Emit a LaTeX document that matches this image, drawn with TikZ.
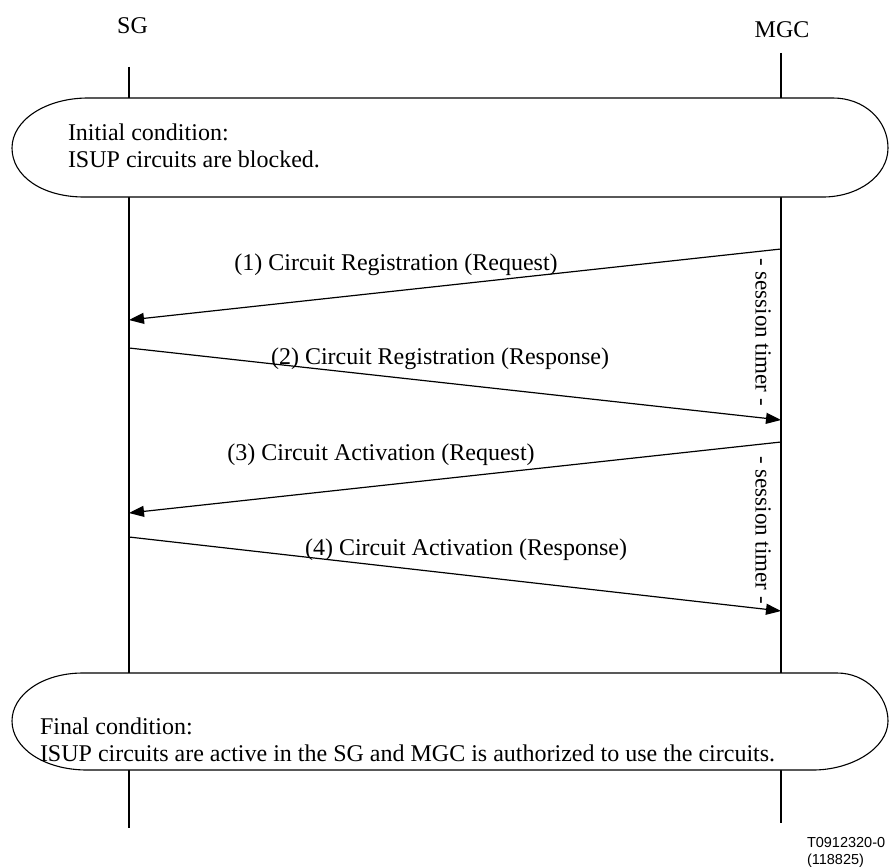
\documentclass[tikz,border=0pt]{standalone}
\usepackage{fontspec}
\setmainfont{Liberation Serif}
\newfontfamily\labelsans{Liberation Sans}
\usetikzlibrary{arrows.meta}
\begin{document}
\begin{tikzpicture}[x=1pt,y=-1pt,
  every node/.style={inner sep=0pt,outer sep=0pt,font=\fontsize{24}{27}\selectfont},
  lifeline/.style={line width=2pt},
  msg/.style={line width=1.2pt,-{Triangle[length=15pt,width=11pt]}},
  condbox/.style={line width=1.1pt,fill=white},
  boxtext/.style={anchor=base west},
  msglabel/.style={anchor=base},
  timer/.style={rotate=-90,font=\fontsize{23}{25}\selectfont},
  figid/.style={anchor=base west,font=\labelsans\fontsize{14.5}{16}\selectfont}]
\useasboundingbox (0,0) rectangle (889,867);

% entity headers
\node[anchor=base] (sg) at (132.5,34) {SG};
\node[anchor=base] (mgc) at (782,38) {MGC};

% lifeline ends
\coordinate (sgtop) at (129,67);
\coordinate (sgbot) at (129,828);
\coordinate (mgctop) at (781,53);
\coordinate (mgcbot) at (781,823);
\draw[lifeline] (sgtop) -- (sgbot);
\draw[lifeline] (mgctop) -- (mgcbot);

% initial condition
\draw[condbox] (88,98) -- (833,98)
  .. controls (864,98) and (888,120) .. (888,148)
  .. controls (888,176) and (858,197) .. (823,197)
  -- (84,197)
  .. controls (42,197) and (12,176) .. (12,148)
  .. controls (12,120) and (46,98) .. (88,98) -- cycle;
\node[boxtext] (ic1) at (68,140) {Initial condition:};
\node[boxtext] (ic2) at (68,167) {ISUP circuits are blocked.};

% message end points on the lifelines
\coordinate (m1) at (781,249);
\coordinate (s1) at (129,320);
\coordinate (s2) at (129,348);
\coordinate (m2) at (781,420);
\coordinate (m3) at (781,442);
\coordinate (s3) at (129,513);
\coordinate (s4) at (129,537);
\coordinate (m4) at (781,611);

\draw[msg] (m1) -- (s1);
\draw[msg] (s2) -- (m2);
\draw[msg] (m3) -- (s3);
\draw[msg] (s4) -- (m4);

\node[msglabel] (l1) at (396,270) {(1) Circuit Registration (Request)};
\node[msglabel] (l2) at (440,364) {(2) Circuit Registration (Response)};
\node[msglabel] (l3) at (381,460) {(3) Circuit Activation (Request)};
\node[msglabel] (l4) at (466,555) {(4) Circuit Activation (Response)};

% session timers
\node[timer] (t1) at (763,332) {- session timer -};
\node[timer] (t2) at (763,530) {- session timer -};

% final condition
\draw[condbox] (83,673) -- (837,673)
  .. controls (866,673) and (888,696) .. (888,721)
  .. controls (888,748) and (852,770) .. (813,770)
  -- (87,770)
  .. controls (44,770) and (12,748) .. (12,721)
  .. controls (12,695) and (42,673) .. (83,673) -- cycle;
\node[boxtext] (fc1) at (40,734) {Final condition:};
\node[boxtext] (fc2) at (40,761) {ISUP circuits are active in the SG and MGC is authorized to use the circuits.};

% figure reference
\node[figid] (fid1) at (807,847) {T0912320-0};
\node[figid] (fid2) at (807,864) {(118825)};
\end{tikzpicture}
\end{document}
